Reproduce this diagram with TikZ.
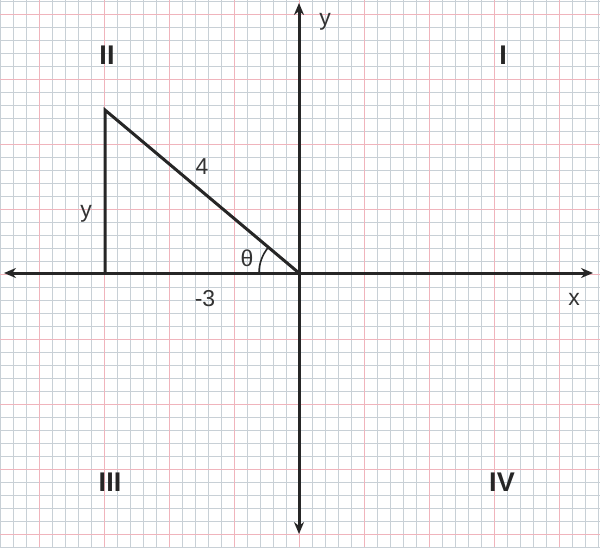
\documentclass[tikz,border=0pt]{standalone}
\usepackage{fontspec}
\setmainfont{Liberation Sans}
\usetikzlibrary{arrows.meta}
\definecolor{minorgrid}{RGB}{200,208,214}
\definecolor{majorgrid}{RGB}{240,180,188}
\tikzset{
  minorline/.style={draw=minorgrid, line width=0.8pt},
  majorline/.style={draw=majorgrid, line width=1pt},
  axisline/.style={draw=black!85, line width=3pt, -{Stealth[length=12pt,width=10pt]}},
  triline/.style={draw=black!85, line width=3pt, line join=miter},
  lbl/.style={font=\fontsize{23}{23}\selectfont, text=black!80, inner sep=0pt},
  quad/.style={font=\fontsize{27}{27}\selectfont\bfseries, text=black!85, inner sep=0pt}
}
\begin{document}
\begin{tikzpicture}[x=1pt,y=-1pt]
\useasboundingbox (0,0) rectangle (600,547);
\fill[white] (0,0) rectangle (600,547);
% minor grid
\foreach \i in {0,13,...,598} { \draw[minorline] (\i,0) -- (\i,547); }
\foreach \j in {1,14,...,547} { \draw[minorline] (0,\j) -- (600,\j); }
% major grid
\foreach \i in {39,104,...,559} { \draw[majorline] (\i,0) -- (\i,547); }
\foreach \j in {14,79,...,534} { \draw[majorline] (0,\j) -- (600,\j); }
% points
\coordinate (O) at (299,273);
\coordinate (A) at (105,273);
\coordinate (B) at (105,110);
\coordinate (xl) at (4,273);
\coordinate (xr) at (593,273);
\coordinate (yt) at (299,3);
\coordinate (yb) at (299,534);
% axes
\draw[axisline] (O) -- (xr);
\draw[axisline] (O) -- (xl);
\draw[axisline] (O) -- (yt);
\draw[axisline] (O) -- (yb);
% triangle
\draw[triline] (A) -- (B) -- (O);
% angle arc
\draw[black!85, line width=1.6pt] ([shift={(180:40)}]O) arc[start angle=180, end angle=220, radius=40];
% labels
\node[lbl] (ylab) at (325,22) {y};
\node[lbl] (xlab) at (574,299) {x};
\node[lbl] (hyp) at (202,167) {4};
\node[lbl] (leg) at (86,214) {y};
\node[lbl] (th) at (247,258) {θ};
\node[lbl] (adj) at (205,299) {-3};
\node[quad] (q2) at (107,55) {II};
\node[quad] (q1) at (503,55) {I};
\node[quad] (q3) at (110,482) {III};
\node[quad] (q4) at (502,482) {IV};
\end{tikzpicture}
\end{document}
